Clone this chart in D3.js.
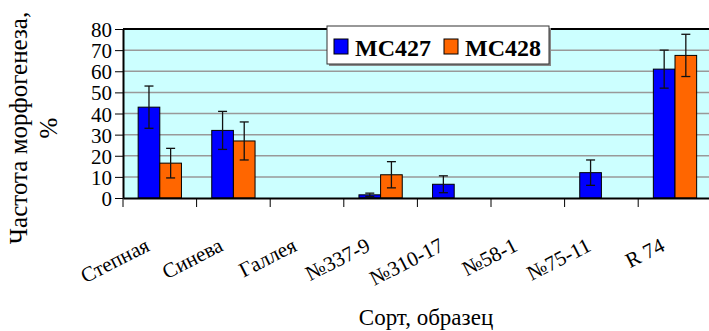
<!DOCTYPE html>
<html><head><meta charset="utf-8">
<script src="https://cdn.jsdelivr.net/npm/d3@7"></script>
<style>html,body{margin:0;padding:0;background:#fff;overflow:hidden}</style>
</head><body>
<svg id="c" width="709" height="331"></svg>
<script>
const categories = ["Степная", "Синева", "Галлея", "№337-9", "№310-17", "№58-1", "№75-11", "R 74"];
const seriesNames = ["MC427", "MC428"];
const valuesMC427 = [43, 32, 0, 1.5, 6.5, 0, 12, 61];
const valuesMC428 = [16.5, 27, 0, 11, 0, 0, 0, 67.5];
const errorsMC427 = [10, 9, 0, 0.8, 4, 0, 6, 9];
const errorsMC428 = [7, 9, 0, 6.2, 0, 0, 0, 10];
const yTicks = [0, 10, 20, 30, 40, 50, 60, 70, 80];
const colors = ["#0000FF", "#FF6600"];

(function () {
const svg = d3.select("#c");
const pLeft = 123, pTop = 29, pBottom = 198, pRight = 123 + 8 * 73.6;
const FF = '"Liberation Serif"';

const x = d3.scaleBand().domain(categories).range([pLeft, pRight]).paddingInner(0).paddingOuter(0);
const xs = d3.scaleBand().domain(seriesNames).range([0, x.bandwidth()]).paddingInner(0).paddingOuter(0.70);
const y = d3.scaleLinear().domain([0, 80]).range([pBottom, pTop]);

svg.append("rect").attr("x", pLeft).attr("y", pTop).attr("width", pRight - pLeft).attr("height", pBottom - pTop).attr("fill", "#CCFFFF");

svg.append("g").selectAll("line").data(yTicks.filter(t => t > 0 && t < 80)).join("line")
  .attr("x1", pLeft).attr("x2", pRight).attr("y1", d => y(d)).attr("y2", d => y(d))
  .attr("stroke", "#999").attr("stroke-width", 1.5);

svg.append("line").attr("x1", pLeft).attr("x2", pRight).attr("y1", y(80)).attr("y2", y(80)).attr("stroke", "#000").attr("stroke-width", 2);

const data = [];
categories.forEach((c, i) => {
  data.push({c, s: seriesNames[0], v: valuesMC427[i], e: errorsMC427[i], col: colors[0]});
  data.push({c, s: seriesNames[1], v: valuesMC428[i], e: errorsMC428[i], col: colors[1]});
});
const nz = data.filter(d => d.v > 0);
svg.append("g").selectAll("rect").data(nz).join("rect")
  .attr("x", d => x(d.c) + xs(d.s)).attr("width", xs.bandwidth())
  .attr("y", d => y(d.v)).attr("height", d => y(0) - y(d.v))
  .attr("fill", d => d.col).attr("stroke", "#000").attr("stroke-width", 1);

const eg = svg.append("g").attr("stroke", "#111").attr("stroke-width", 1.3);
nz.filter(d => d.e > 0).forEach(d => {
  const cx = x(d.c) + xs(d.s) + xs.bandwidth() / 2;
  eg.append("line").attr("x1", cx).attr("x2", cx).attr("y1", y(d.v + d.e)).attr("y2", y(d.v - d.e));
  eg.append("line").attr("x1", cx - 4.5).attr("x2", cx + 4.5).attr("y1", y(d.v + d.e)).attr("y2", y(d.v + d.e));
  eg.append("line").attr("x1", cx - 4.5).attr("x2", cx + 4.5).attr("y1", y(d.v - d.e)).attr("y2", y(d.v - d.e));
});

const yAxis = svg.append("g").attr("transform", `translate(${pLeft},0)`)
  .call(d3.axisLeft(y).tickValues(yTicks).tickSize(8).tickPadding(3).tickSizeOuter(0));
yAxis.select(".domain").attr("stroke", "#000").attr("stroke-width", 2);
yAxis.selectAll(".tick line").attr("stroke", "#000").attr("stroke-width", 1);
yAxis.selectAll(".tick text").style("font-family", FF).style("font-size", "21px").attr("fill", "#000").attr("dy", "0.36em");

const xAxis = svg.append("g").attr("transform", `translate(0,${pBottom})`)
  .call(d3.axisBottom(x).tickSize(0).tickSizeOuter(0).tickFormat(""));
xAxis.select(".domain").attr("stroke", "#000").attr("stroke-width", 2);
svg.append("g").selectAll("line").data(categories).join("line")
  .attr("x1", d => x(d)).attr("x2", d => x(d))
  .attr("y1", pBottom).attr("y2", pBottom + 9).attr("stroke", "#000").attr("stroke-width", 1);
svg.append("g").selectAll("text").data(categories).join("text")
  .attr("transform", d => `translate(${x(d) + x.bandwidth() / 2 - 9},${pBottom + 52}) rotate(-27)`)
  .attr("text-anchor", "end").style("font-family", FF).style("font-size", "21px").attr("fill", "#000")
  .text(d => d);

svg.append("text").attr("x", 426).attr("y", 325).attr("text-anchor", "middle")
  .style("font-family", FF).style("font-size", "23px").attr("fill", "#000").text("Сорт, образец");
const yt = svg.append("text").attr("transform", "translate(27,128) rotate(-90)")
  .attr("text-anchor", "middle").style("font-family", FF).style("font-size", "25px").attr("fill", "#000");
yt.append("tspan").attr("x", 0).attr("y", 0).text("Частота морфогенеза,");
yt.append("tspan").attr("x", 0).attr("y", 30).text("%");

const lg = svg.append("g");
lg.append("rect").attr("x", 329).attr("y", 28).attr("width", 222).attr("height", 38).attr("fill", "#888");
lg.append("rect").attr("x", 327).attr("y", 26).attr("width", 222).attr("height", 38).attr("fill", "#fff").attr("stroke", "#333").attr("stroke-width", 1);
const lx = [334, 444];
seriesNames.forEach((s, i) => {
  lg.append("rect").attr("x", lx[i]).attr("y", 39).attr("width", 14).attr("height", 15)
    .attr("fill", colors[i]).attr("stroke", "#000").attr("stroke-width", 1);
  lg.append("text").attr("x", lx[i] + 21).attr("y", 56).style("font-family", FF).style("font-weight", "bold")
    .style("font-size", "24px").attr("fill", "#000").text(s);
});
})();
</script>
</body></html>
